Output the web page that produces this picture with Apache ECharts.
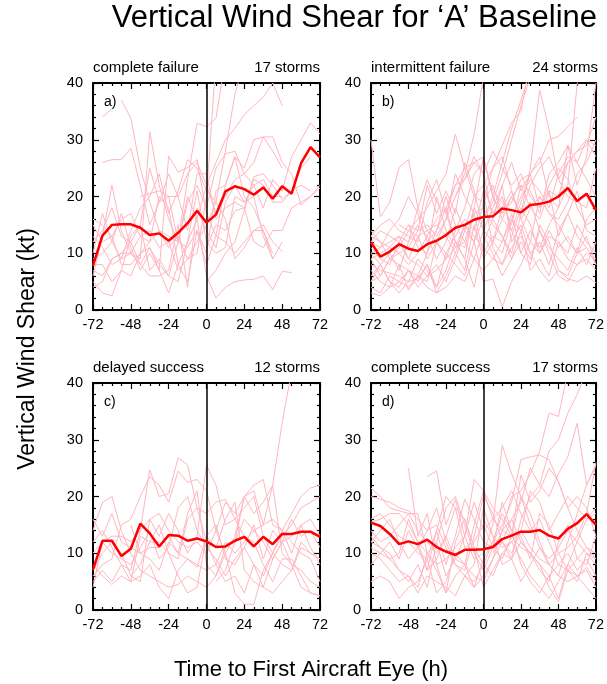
<!DOCTYPE html>
<html>
<head>
<meta charset="utf-8">
<script src="https://cdn.jsdelivr.net/npm/echarts@6/dist/echarts.min.js"></script>
<style>
  html, body { margin: 0; padding: 0; background: #ffffff; }
  #chart { width: 607px; height: 684px; }
</style>
</head>
<body>
<div id="chart"></div>
<script>
const _ = null;

// Hours relative to first aircraft-observed eye, every 6 h
const hours = [-72, -66, -60, -54, -48, -42, -36, -30, -24, -18, -12, -6, 0,
               6, 12, 18, 24, 30, 36, 42, 48, 54, 60, 66, 72];
const xTickLabels = [-72, -48, -24, 0, 24, 48, 72];
const yTickLabels = [0, 10, 20, 30, 40];

const panelTitles = ['complete failure', 'intermittent failure', 'delayed success', 'complete success'];
const panelCounts = ['17 storms', '24 storms', '12 storms', '17 storms'];
const panelLetters = ['a)', 'b)', 'c)', 'd)'];

// Composite mean shear (kt) for each group
const meanA = [7.8, 13.1, 15.0, 15.1, 15.1, 14.5, 13.2, 13.5, 12.2, 13.6, 15.3, 17.5, 15.4,
               16.8, 20.9, 21.8, 21.3, 20.3, 21.6, 19.6, 21.8, 20.5, 25.9, 28.7, 26.9];
const meanB = [11.9, 9.4, 10.3, 11.6, 10.8, 10.4, 11.6, 12.2, 13.2, 14.5, 15.0, 15.9, 16.4,
               16.5, 17.9, 17.6, 17.2, 18.5, 18.7, 19.1, 20.0, 21.5, 19.2, 20.5, 17.6];
const meanC = [7.1, 12.2, 12.2, 9.5, 10.8, 15.2, 13.5, 11.2, 13.2, 13.1, 12.2, 12.6, 12.1,
               11.1, 11.2, 12.2, 12.9, 11.2, 12.9, 11.6, 13.4, 13.4, 13.8, 13.8, 12.9];
const meanD = [15.4, 14.8, 13.4, 11.6, 12.1, 11.6, 12.4, 11.1, 10.3, 9.7, 10.6, 10.6, 10.7,
               11.1, 12.5, 13.1, 13.8, 13.8, 14.1, 13.1, 12.6, 14.3, 15.3, 16.9, 15.0];

// Individual storm shear tracks (kt), group a: complete failure
const stormsA = [
  [_, 34, 35.5, _, _, _, _, _, _, _, _, _, _, _, _, _, _, _, _, _, _, _, _, _, _],
  [_, _, _, 37, 33.8, 25, 19, 14, 11, 13, 9, 12, 15, 19, 28, 38, 44, _, _, _, _, _, _, _, _],
  [_, 26, 26.5, 26.5, 28.5, 22, 15, 19, 24, 20, 24, 26, 22, 17, 20, 23, 24, 22, 23, 20, 20, _, _, _, _],
  [6, 13, 22, 14, 10, 9, 31.4, 22, 16, 12, 23, 32.9, 32.3, 33.8, 44, _, _, _, _, _, _, _, _, _, _],
  [9, 10, 12, 17, 11, 7, 10, 7, 27.1, 24.3, 25.1, 26.5, 17, 13, 22, 27, 25, 30, 30.5, 28, 25, _, _, _, _],
  [4, 5, 9, 10, 12, 15, 25, 19, 20, 20, 14, 24, 24, 16, 18, 19, 18, 23, 22, 19, 19, 21, 25, 27, _],
  [15, 12, 13, 8, 8, 10, 12, 20, 18, 8, 12, 21, 12, 10, 11, 20, 19, 22, 18, 23, 21, 27, 30, 33, 31],
  [12, 14, 18, 13, 12, 8, 6, 6, 7, 15, 4, 18, 14, 11, 19, 22, 19, 20, 13, 9, 12, _, _, _, _],
  [8, 8, 5, 7, 13, 15, 7, 9, 6, 5, 12, 16, 6, 2.1, 4, 5, 5.3, 5.4, 6, 3.6, 6.8, 6.6, _, _, _],
  [5, 3, 2.5, 7, 6, 10, 11, 7, 3, 8, 5, 14, 10, 21, 22, 27, 20, 18, 14, 10, _, _, _, _, _],
  [10, 17, 12, 9, 14, 18, 20, 24, 17, 21, 26.5, 25, 21, 19, 16, 9, 11, 14, 15, 12, 10.3, _, _, _, _],
  [_, _, _, _, _, 20, 20.5, 21, 20, 12, 20, 16, 22, 26, 30, 32, 34.4, 36, 37.5, 40, 36, _, _, _, _],
  [13, 11, 8, 9, 10, 8, 11, 8, 6, 12, 19, 22, 18, 25, 27.5, 28, 24, 26, 30.5, 30.5, 26, 24, 18.5, 20, 22],
  [7, 6, 9, 10, 10, 13, 14, 11, 12, 7, 9, 10, 20, 44, _, _, _, _, _, _, _, _, _, _, _],
  [_, _, _, _, _, _, _, _, _, _, _, _, 11, 15, 14, 17.5, 18, 12, 11, 14, 14, 18, 19, 20, 21.5],
  [16, 15, 13, 16, 17, 13, 12, 14, 13, 12, 11, 14, 8, 13, 12, 10, 12, 14, 14, 9, _, _, _, _, _],
  [_, _, _, _, _, _, _, _, _, _, _, _, 5, 7, 10, 12, 17.5, 23.5, 24, 22, 19.5, 21, 22, 21, _]
];

// Group b: intermittent failure
const stormsB = [
  [30, 16.4, 19, 25.1, 26.5, 18, 14, 15, 13, 10, 15, 13, 11, 9, 12, 16, 14, 18, 20, 17, 15, 12, 10, 11, 8],
  [13, 12, 9, 11, 14, 16, 18, 21, 24, 31, 25, 20, 22, 25, 29, 33, 35, 44, _, _, _, _, _, _, _],
  [5, 6, 9, 10, 11, 14, 15, 13, 16, 20, 24, 31, 41, _, _, _, _, _, _, _, _, _, _, _, _],
  [12, 14, 13, 12, 9, 8, 6, 8, 5, 9, 14, 12, 16, 20, 26, 32, 37, 42, _, _, _, _, _, _, _],
  [6, 8, 5, 4, 7, 6, 5, 12, 10, 8, 6, 12, 5, 5.5, 0.5, 5, 8, 12, 10, 13, 12, 9, 8, 10, 9],
  [9, 10, 11, 13, 12, 15, 13, 16, 18, 22, 25, 26, 24, 28, 25, 22, 24, 20, 18, 22, 25, 23, 18, 15, 16],
  [3, 2.5, 4, 5, 4, 6, 10, 14, 20, 15, 12, 18, 14, 18, 22, 26, 21, 24, 26, 30, 30.6, 32.3, 34, _, _],
  [_, _, _, _, 15, 14, 22, 17, 21, 17, 26, 21, 14, 12, 16, 20, 22, 18, 16, 21, 20, 26, 28, 30, 27],
  [_, _, _, 15, 14, 13, 9, 12, 16, 24, 20, 17, 10, 13, 12, 17, 10, 14, 11, 15, 18, 22, 40, 44, _],
  [8, 7, 6.5, 6, 5, 5.5, 8, 4, 7, 12, 9, 18, 27, 20, 16, 14, 10, 8, 15, 12, 7, 6, 10, 13, 8],
  [11, 9, 8, 12, 15, 11, 10, 20, 14, 11, 15, 12, 19, 22, 17, 20, 17, 25, 38.8, 31.8, 23, 20, 19, 18, 25],
  [7, 5, 4, 8, 3.5, 6, 4, 3, 6, 10, 7, 15, 9, 12, 18, 21, 16, 19, 14, 11, 9, 7, 11, 8, 12],
  [10, 11, 12, 13, 9, 13, 14, 12, 9, 11, 12, 9, 7, 9, 8, 11, 13, 10, 7, 5, 7, 5.5, 5, 6, 4.8],
  [_, _, _, _, _, _, _, _, _, _, _, _, 22, 17, 20, 14, 19, 24, 18, 21, 13, 17, 21, 14, 13],
  [14, 12, 11, 10, 8, 10, 13, 9, 12, 18, 14, 20, 19, 25, 27, 21, 16, 12, 20, 17, 16, 19, 24, 26, 30],
  [5, 8, 10, 7, 12, 18, 23, 19, 17, 12, 9, 4, 12, 16, 13, 9, 14, 7, 9, 6, 12, 10, 15, 12, 10],
  [9, 6, 9, 8, 7, 4, 6, 7, 9, 14, 18, 24, 26, 21, 19, 15, 22, 21, 17, 24, 26, 29, 22, 27, 40],
  [_, _, _, _, _, _, _, _, _, 20, 23, 27, 24, 16, 22, 12, 15, 10, 12, 8, 14, 17, 13, 11, _],
  [10, 8, 5, 3, 5, 9, 7, 4, 10, 13, 16, 14, 21, 11, 8, 13, 18, 15, 10, 14, 11, 13, 10, 16, 18],
  [4, 3, 6, 5, 7, 5, 8, 3, 4, 6, 5, 9, 14, 12, 10, 16, 20, 23, 21, 18, 24, 27, 26, 23, 20],
  [_, _, _, _, _, _, _, _, _, _, _, _, 16, 19, 24, 30, 36, 41, _, _, _, _, _, _, _],
  [13, 15, 16, 14, 13, 12, 19, 23, 17, 22, 23, 26, 27, 20, 17, 19, 23, 24, 27, 20, 18, 29, 26, 30, 29],
  [_, _, _, _, _, _, _, _, _, _, _, _, 13, 10, 6, 9, 12, 9, 14, 10, 6, 5, 8, 9, 7],
  [12, 11, 14, 16, 20, 17, 12, 14, 18, 12, 11, 17, 18, 15, 13, 10, 17, 22, 25, 27, 23, 26, 28, 29, 34]
];

// Group c: delayed success
const stormsC = [
  [14, 19, 20, 14, 10, 7, 6, 5, 4, 4.5, 6, 5, 4, 6, 10, 13, 20, 22, 23, 15, 14, 17, 20, 21.5, 22],
  [5, 7, 5, 8, 7, 14, 24.7, 20, 20.5, 26.8, 25.6, 18, 12, 8, 5, 6, 3, 8, 4, 9, 12, 8, 4, 3, 2.5],
  [6, 8, 9, 15, 16, 20, 23.5, 22, 19, 24.5, 22.5, 23, 21, 14, 19, 17, 20, 21, 15, 16, 14, 12, 10, 9, 5],
  [10, 12, 13, 13, 12, 14, 16, 13, 17, 14, 10, 13, 25.5, 22, 15, 16, 18, 20, 13, 10, 8, 7, 11, 10, 9],
  [_, _, _, _, 15, 10, 11, 11, 13, 10, 17, 21, 8, 6, 11, 12, 16, 14, 12, 9, 12, 13, 15, 16, 13],
  [8, 6, 4.5, 6, 5, 6, 8, 4, 2, 7, 9, 8, 7, 8, 12, 10, 12, 14, 15, 22, 33, 42, _, _, _],
  [_, _, _, _, _, _, _, _, _, _, _, _, _, 5, 7, 12, 20, 17, 19, 22, 10, 8, 7, 5, 4],
  [12, 14, 11, 8, 5, 13, 12, 12, 10, 6, 3, 4, 13, 11, 16, 19, 7, 5, 4, 3, 5, 7, 12, 10, 9],
  [_, _, _, _, 6, 8, 12, 15, 10, 9, 16, 18, 17, 19, 19.5, 16, 13, 12, 8, 5, 9, 9, 6, 3, 2.5],
  [7, 10, 12, 10, 6, 5, 16, 17, 14, 12, 11, 12, 10, 14, 10, 3, 1, 1, 7, 10, 13, 15, 18, 19, 20],
  [4, 12, 10, 9, 8, 11, 14, 9, 11, 18, 20, 14, 11, 9, 6, 9, 11, 8, 6, 10, 14, 10, 15, 11, 8],
  [16, 13, 17, 12, 11, 10, 9, 7, 12, 10, 9, 7.5, 13, 15, 9, 8, 11, 15, 9, 14, 12, 16, 13, 14, 11]
];

// Group d: complete success
const stormsD = [
  [21.5, 20, 18, 17.5, 17, 14, 12, 10, 13, 9, 8, 6, 5, 9, 14, 16, 12, 10, 8, 6, 2, 8, 12, 10, 9],
  [20, 19.5, 19, 18, 17.5, 16, 14, 15, 11, 8, 7, 13, 20, 17, 12, 10, 14, 21, 19, 14, 17, 20, 18, 16, 17],
  [15.5, 16, 17, 17, 15, 12, 10, 8, 9, 11, 13, 9, 10, 15, 29, 24, 20, 17, 12, 8, 10, 7, 6, 7, 4],
  [13, 11, 9, 7, 6, 4, 10, 7, 3, 6, 8, 15, 21, 18, 16, 13, 23.8, 19, 21, 25, 22.6, 18, 14, 11, 9],
  [11, 10, 9, 10, 16, 12, 7, 14, 8, 13, 19.5, 16, 12, 11, 9, 13, 20, 15, 11, 8, 6, 12, 17, 22, 25.6],
  [_, _, _, _, 25, 13, 17, 8, 3, 12, 16, 11, 8, 12, 15, 19, 26.5, 27, 27.3, 26.5, 22.6, 18, 20, 18, 13],
  [_, _, _, _, _, _, 23.5, 24.5, 15, 19.5, 13, 23, 21, 16, 14, 20, 21, 24, 28, 34.7, 34.1, 42, _, _, _],
  [10, 9, 7, 5, 6, 3, 6, 5, 4, 2.5, 6, 5, 8, 6, 10, 9, 16, 20, 22, 28, 30, 34.7, 38, 42, _],
  [12, 14, 16, 12, 9, 11, 14, 18, 12, 8, 6, 4, 6, 9, 12, 16, 19, 25, 22, 20, 24, 27, 32.9, 22, 25.6],
  [_, _, _, _, _, _, _, _, _, _, _, _, _, 10, 14, 13, 11, 10, 8, 4, 1.5, 7, 9, 8, 13],
  [8, 10, 12, 9, 14, 11, 7, 9, 13, 18, 16, 11, 4, 7, 10, 12, 9, 6, 4, 2, 5, 8, 6, 4, 2],
  [14, 12, 13, 15, 17, 17, 10, 12, 18, 20, 15, 10, 7, 11, 12, 9, 5, 8, 11, 9, 11, 14, 12, 16, 18],
  [_, _, _, _, _, _, _, _, _, _, _, _, 16, 13, 11, 12, 14, 11, 9, 8, 6, 5, 6, 7.5, 5],
  [12, 11, 10, 7, 5, 8, 4, 12, 6, 9, 13, 19, 14, 16, 18, 21, 17, 14, 16, 12, 8, 7, 5, 10, 8],
  [5, 6, 5, 2, 4, 5, 9, 3, 5, 10, 8, 4, 9, 12, 17, 14, 8, 5, 3, 6, 8, 10, 7, 9, 6],
  [16, 17, 15, 13, 12, 10, 9, 14, 20, 18, 11, 12, 15, 11, 19, 14, 13, 9, 17, 15, 10, 11, 13, 17, 26],
  [_, _, _, _, _, _, _, _, _, _, 6, 8, 18, 13, 8, 9, 12, 10, 7, 5, 12, 15, 9, 11, 10]
];

const storms = [stormsA, stormsB, stormsC, stormsD];
const means = [meanA, meanB, meanC, meanD];

const FONT = '"Liberation Sans", Arial, Helvetica, sans-serif';
const PLOT_W = 227, PLOT_H = 227;
const panelPos = [
  { left: 93, top: 83 },
  { left: 371, top: 83 },
  { left: 93, top: 383 },
  { left: 371, top: 383 }
];

const pairs = vals => hours.map((h, i) => [h, vals[i]]);

const frameLine = { show: true, onZero: false, lineStyle: { color: '#000', width: 2 } };
const tickStyle = { color: '#000', width: 1.2 };

const grid = [], xAxis = [], yAxis = [], series = [], graphic = [];

panelPos.forEach((p, k) => {
  grid.push({ left: p.left, top: p.top, width: PLOT_W, height: PLOT_H, containLabel: false });

  const xBase = {
    type: 'value', gridIndex: k, min: -72, max: 72, interval: 24,
    axisLine: frameLine,
    axisTick: { show: true, inside: true, length: 6, lineStyle: tickStyle },
    minorTick: { show: true, splitNumber: 4, length: 3, lineStyle: tickStyle },
    splitLine: { show: false }, minorSplitLine: { show: false }
  };
  xAxis.push(Object.assign({}, xBase, {
    position: 'bottom',
    axisLabel: {
      show: true, margin: 7, color: '#000', fontSize: 14.5, fontFamily: FONT,
      customValues: xTickLabels
    }
  }));
  xAxis.push(Object.assign({}, xBase, { position: 'top', axisLabel: { show: false } }));

  const yBase = {
    type: 'value', gridIndex: k, min: 0, max: 40, interval: 10,
    axisLine: frameLine,
    axisTick: { show: true, inside: true, length: 6, lineStyle: tickStyle },
    minorTick: { show: true, splitNumber: 5, length: 3, lineStyle: tickStyle },
    splitLine: { show: false }, minorSplitLine: { show: false }
  };
  yAxis.push(Object.assign({}, yBase, {
    position: 'left',
    axisLabel: { show: true, margin: 10, color: '#000', fontSize: 14.5, fontFamily: FONT }
  }));
  yAxis.push(Object.assign({}, yBase, { position: 'right', axisLabel: { show: false } }));

  storms[k].forEach(track => {
    series.push({
      type: 'line', xAxisIndex: 2 * k, yAxisIndex: 2 * k,
      data: pairs(track), symbol: 'none', silent: true, clip: true,
      connectNulls: false, z: 2,
      lineStyle: { color: '#ffb6c1', width: 1 }
    });
  });

  series.push({
    type: 'line', xAxisIndex: 2 * k, yAxisIndex: 2 * k,
    data: pairs(means[k]), symbol: 'none', silent: true, clip: true, z: 5,
    lineStyle: { color: '#ff0000', width: 2.5 },
    markLine: {
      silent: true, symbol: ['none', 'none'], label: { show: false },
      lineStyle: { color: '#000', width: 1.5, type: 'solid' },
      data: [{ xAxis: 0 }]
    }
  });

  const titleTop = p.top - 23;
  graphic.push({
    type: 'text', left: p.left, top: titleTop,
    style: { text: panelTitles[k], font: '15px ' + FONT, fill: '#000' }
  });
  graphic.push({
    type: 'text', right: 607 - (p.left + PLOT_W), top: titleTop,
    style: { text: panelCounts[k], font: '15px ' + FONT, fill: '#000' }
  });
  graphic.push({
    type: 'text', left: p.left + 11, top: p.top + 12,
    style: { text: panelLetters[k], font: '14px ' + FONT, fill: '#000' }
  });
});

// Figure title and shared axis titles
graphic.push({
  type: 'text', right: 10, top: 3,
  style: { text: 'Vertical Wind Shear for \u2018A\u2019 Baseline', font: '31px ' + FONT, fill: '#000' }
});
graphic.push({
  type: 'text', x: 311, y: 670,
  style: {
    text: 'Time to First Aircraft Eye (h)', font: '22px ' + FONT, fill: '#000',
    align: 'center', verticalAlign: 'middle'
  }
});
graphic.push({
  type: 'text', x: 28, y: 349, rotation: Math.PI / 2,
  style: {
    text: 'Vertical Wind Shear (kt)', font: '23px ' + FONT, fill: '#000',
    align: 'center', verticalAlign: 'middle'
  }
});

const chart = echarts.init(document.getElementById('chart'), null, { renderer: 'canvas' });
chart.setOption({
  animation: false,
  backgroundColor: '#ffffff',
  grid, xAxis, yAxis, series, graphic
});
</script>
</body>
</html>
